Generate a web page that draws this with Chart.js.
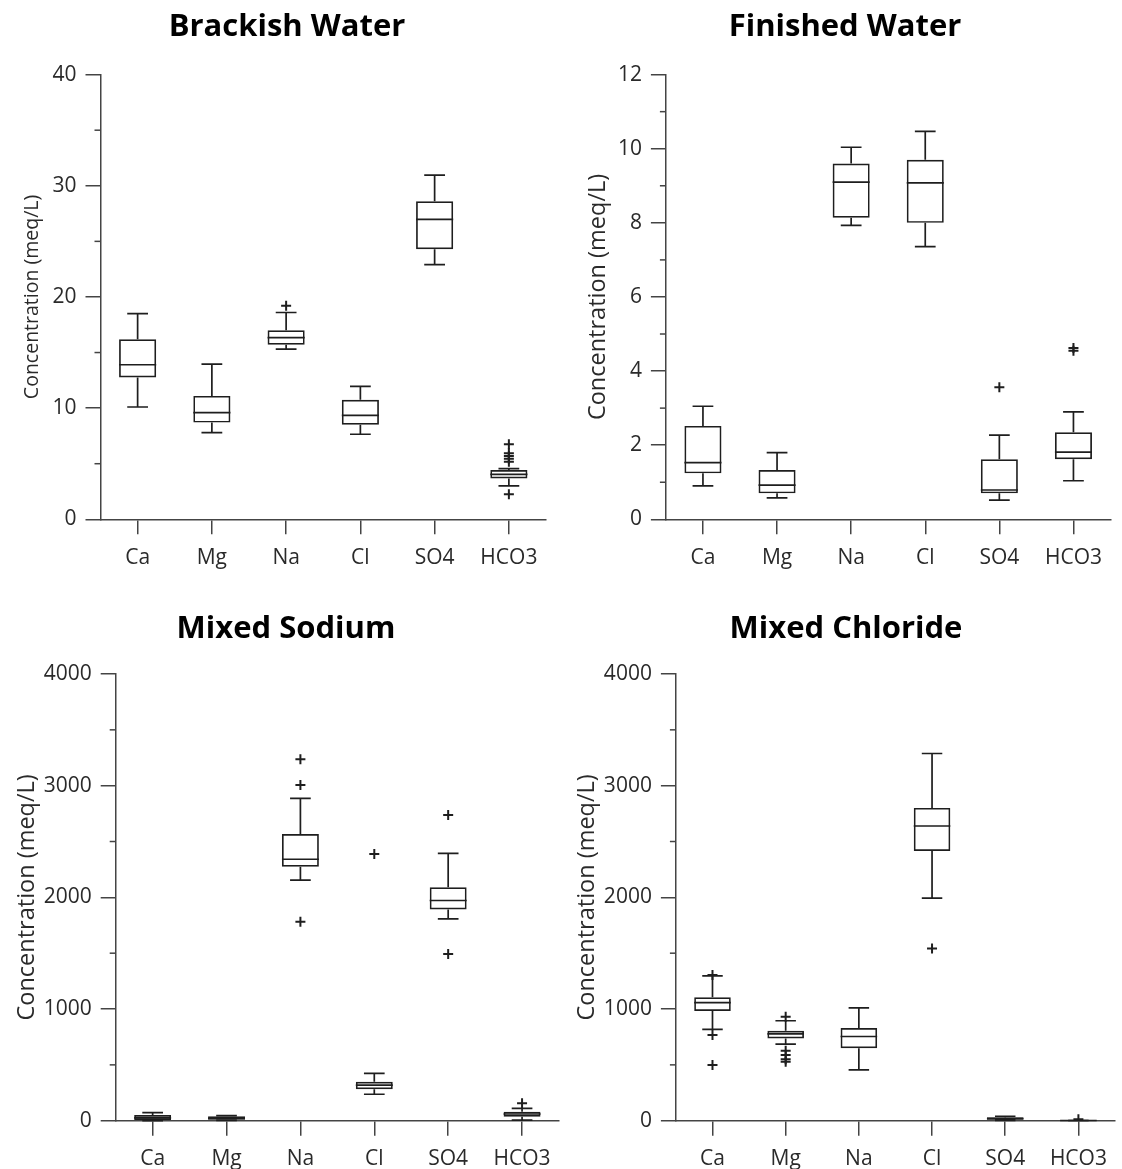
<!DOCTYPE html>
<html>
<head>
<meta charset="utf-8">
<script src="https://cdn.jsdelivr.net/npm/chart.js@4.4.0/dist/chart.umd.min.js"></script>
<style>
  body { margin: 0; background: #fff; width: 1122px; height: 1169px; position: relative; overflow: hidden; }
  canvas { position: absolute; }
</style>
</head>
<body>
<canvas id="brackish" width="561" height="580" style="left:0;top:0"></canvas>
<canvas id="finished" width="561" height="580" style="left:561px;top:0"></canvas>
<canvas id="sodium" width="566" height="569" style="left:0;top:600px"></canvas>
<canvas id="chloride" width="561" height="569" style="left:561px;top:600px"></canvas>
<script>
// ions on the x axis
const categories = ['Ca', 'Mg', 'Na', 'Cl', 'SO4', 'HCO3'];

// Brackish Water
const bwLow  = [10.1, 7.8, 15.3, 7.65, 22.9, 3.0];
const bwQ1   = [12.75, 8.7, 15.7, 8.5, 24.3, 3.68];
const bwMed  = [13.9, 9.6, 16.35, 9.35, 26.98, 4.04];
const bwQ3   = [16.2, 11.1, 17.0, 10.75, 28.6, 4.43];
const bwHigh = [18.5, 13.95, 18.6, 11.95, 30.96, 4.55];
const bwOutliers = [['Na', 19.2], ['HCO3', 6.74], ['HCO3', 5.93], ['HCO3', 5.69], ['HCO3', 5.44], ['HCO3', 5.17], ['HCO3', 2.25]];

// Finished Water
const fwLow  = [0.9, 0.58, 7.93, 7.36, 0.52, 1.04];
const fwQ1   = [1.24, 0.70, 8.14, 8.0, 0.70, 1.62];
const fwMed  = [1.53, 0.92, 9.1, 9.08, 0.79, 1.81];
const fwQ3   = [2.52, 1.33, 9.6, 9.7, 1.62, 2.35];
const fwHigh = [3.05, 1.8, 10.04, 10.47, 2.27, 2.9];
const fwOutliers = [['SO4', 3.56], ['HCO3', 4.55], ['HCO3', 4.62]];

// Mixed Sodium
const msLow  = [0, 3, 2155, 237, 1807, 6];
const msQ1   = [6, 8, 2275, 282, 1891, 36];
const msMed  = [25, 20, 2341, 319, 1972, 60];
const msQ3   = [51, 40, 2567, 349, 2091, 81];
const msHigh = [72, 45, 2887, 424, 2394, 111];
const msOutliers = [['Na', 3236], ['Na', 3006], ['Na', 1782], ['Cl', 2388], ['SO4', 2738], ['SO4', 1493], ['HCO3', 156]];

// Mixed Chloride
const mcLow  = [818, 685, 455, 1993, 3, 0];
const mcQ1   = [982, 736, 649, 2415, 8, 1];
const mcMed  = [1057, 778, 754, 2639, 18, 2];
const mcQ3   = [1105, 805, 829, 2801, 32, 3];
const mcHigh = [1296, 895, 1011, 3288, 40, 4];
const mcOutliers = [['Ca', 1305], ['Ca', 767], ['Ca', 499], ['Mg', 931], ['Mg', 627], ['Mg', 588], ['Mg', 550], ['Mg', 528], ['Cl', 1541], ['HCO3', 12]];

const yTitle = 'Concentration (meq/L)';
const ink = '#1e1e1e';
const axisColor = '#444';
const textColor = '#2a2a2a';
const family = "'Open Sans', 'DejaVu Sans', sans-serif";

// whiskers, caps and median lines, placed with the chart scales
const whiskerPlugin = {
    id: 'whiskers',
    afterDatasetsDraw(chart, args, opts) {
        const ctx = chart.ctx;
        const x = chart.scales.x, y = chart.scales.y;
        const bars = chart.getDatasetMeta(0).data;
        const cap = x.width / categories.length * 0.14;
        ctx.save();
        ctx.strokeStyle = ink;
        ctx.lineWidth = 1.7;
        bars.forEach((bar, i) => {
            const cx = x.getPixelForValue(i);
            const half = bar.width / 2;
            const yLo = y.getPixelForValue(opts.low[i]);
            const yQ1 = y.getPixelForValue(opts.q1[i]);
            const yMed = y.getPixelForValue(opts.med[i]);
            const yQ3 = y.getPixelForValue(opts.q3[i]);
            const yHi = y.getPixelForValue(opts.high[i]);
            ctx.beginPath();
            ctx.moveTo(cx, yQ3); ctx.lineTo(cx, yHi);
            ctx.moveTo(cx - cap, yHi); ctx.lineTo(cx + cap, yHi);
            ctx.moveTo(cx, yQ1); ctx.lineTo(cx, yLo);
            ctx.moveTo(cx - cap, yLo); ctx.lineTo(cx + cap, yLo);
            ctx.moveTo(cx - half, yMed); ctx.lineTo(cx + half, yMed);
            ctx.stroke();
        });
        ctx.restore();
    }
};

// short minor ticks between the labelled ones
const minorTickPlugin = {
    id: 'minorTicks',
    afterDraw(chart, args, opts) {
        const ctx = chart.ctx;
        const y = chart.scales.y;
        const left = chart.chartArea.left;
        ctx.save();
        ctx.strokeStyle = axisColor;
        ctx.lineWidth = 1.5;
        for (let v = y.min + opts.step; v < y.max; v += opts.step * 2) {
            const py = y.getPixelForValue(v);
            ctx.beginPath();
            ctx.moveTo(left - 6, py);
            ctx.lineTo(left, py);
            ctx.stroke();
        }
        ctx.restore();
    }
};

function makeChart(id, title, stats, outliers, ax) {
    const boxes = stats.q1.map((v, i) => [v, stats.q3[i]]);
    const points = outliers.map(o => ({ x: o[0], y: o[1] }));
    return new Chart(document.getElementById(id), {
        type: 'bar',
        data: {
            labels: categories,
            datasets: [{
                type: 'bar',
                data: boxes,
                backgroundColor: 'rgba(255,255,255,0)',
                borderColor: ink,
                borderWidth: 1.7,
                borderSkipped: false,
                barPercentage: 0.5,
                categoryPercentage: 1
            }, {
                type: 'line',
                data: points,
                showLine: false,
                pointStyle: 'cross',
                pointRadius: 5,
                pointBorderWidth: 2,
                pointBorderColor: ink,
                pointBackgroundColor: ink
            }]
        },
        plugins: [whiskerPlugin, minorTickPlugin],
        options: {
            responsive: false,
            animation: false,
            layout: { padding: ax.padding },
            plugins: {
                legend: { display: false },
                tooltip: { enabled: false },
                title: {
                    display: true,
                    text: title,
                    color: '#000',
                    font: { family: family, size: 31, weight: 'bold', lineHeight: 1.2 },
                    padding: ax.titlePad
                },
                whiskers: stats,
                minorTicks: { step: ax.step / 2 }
            },
            scales: {
                x: {
                    offset: true,
                    grid: { offset: false, drawOnChartArea: false, tickLength: 15, color: axisColor, lineWidth: 1.5 },
                    border: { color: axisColor, width: 1.5 },
                    ticks: { color: textColor, font: { family: family, size: 21 }, padding: 11 },
                    afterFit(s) { s.height = ax.xHeight; }
                },
                y: {
                    min: 0,
                    max: ax.max,
                    ticks: {
                        stepSize: ax.step, color: textColor, font: { family: family, size: 21 }, padding: 9,
                        callback: v => String(v)
                    },
                    grid: { drawOnChartArea: false, tickLength: 15, color: axisColor, lineWidth: 1.5 },
                    border: { color: axisColor, width: 1.5 },
                    title: {
                        display: true,
                        text: yTitle,
                        color: textColor,
                        font: { family: family, size: ax.titleSize, lineHeight: ax.titleLine },
                        padding: ax.yTitlePad
                    },
                    afterFit(s) { s.width = ax.yWidth; }
                }
            }
        }
    });
}

makeChart('brackish', 'Brackish Water',
    { low: bwLow, q1: bwQ1, med: bwMed, q3: bwQ3, high: bwHigh }, bwOutliers,
    { max: 40, step: 10, padding: { left: 28, right: 15, top: 0, bottom: 0 },
      titlePad: { top: 8.5, bottom: 28.9 }, xHeight: 60.7, yWidth: 72.5,
      titleSize: 19.5, titleLine: 0.5, yTitlePad: 0 });

makeChart('finished', 'Finished Water',
    { low: fwLow, q1: fwQ1, med: fwMed, q3: fwQ3, high: fwHigh }, fwOutliers,
    { max: 12, step: 2, padding: { left: 18.5, right: 11.5, top: 0, bottom: 0 },
      titlePad: { top: 8.5, bottom: 28.9 }, xHeight: 60.7, yWidth: 86.4,
      titleSize: 23.5, titleLine: 1.2, yTitlePad: 4.4 });

makeChart('sodium', 'Mixed Sodium',
    { low: msLow, q1: msQ1, med: msMed, q3: msQ3, high: msHigh }, msOutliers,
    { max: 4000, step: 1000, padding: { left: 10, right: 4, top: 0, bottom: 0 },
      titlePad: { top: 11, bottom: 25.8 }, xHeight: 48.3, yWidth: 105.7,
      titleSize: 23.5, titleLine: 1.2, yTitlePad: 2.9 });

makeChart('chloride', 'Mixed Chloride',
    { low: mcLow, q1: mcQ1, med: mcMed, q3: mcQ3, high: mcHigh }, mcOutliers,
    { max: 4000, step: 1000, padding: { left: 9, right: 0, top: 0, bottom: 0 },
      titlePad: { top: 11, bottom: 25.8 }, xHeight: 48.3, yWidth: 105.9,
      titleSize: 23.5, titleLine: 1.2, yTitlePad: 2.9 });
</script>
</body>
</html>
